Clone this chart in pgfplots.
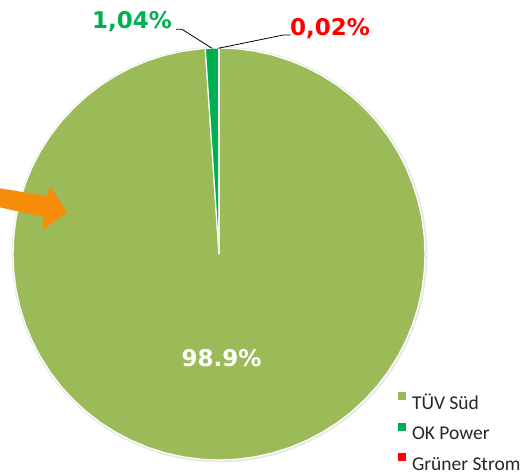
\documentclass[border=0pt]{standalone}
\usepackage{pgfplots}
\pgfplotsset{compat=1.18}
\usepackage{fontspec}
\setmainfont{DejaVu Sans}
\newfontfamily\carlito{Carlito}
\definecolor{tuev}{RGB}{155,187,89}
\definecolor{okp}{RGB}{0,176,80}
\definecolor{gruen}{RGB}{255,0,0}
\definecolor{arrowc}{RGB}{245,140,10}
\begin{document}
\begin{tikzpicture}[x=1pt,y=1pt]
\path[use as bounding box] (0,0) rectangle (522,475);
\fill[black!9] (219.5,220.5) circle (207.8);
\begin{axis}[at={(219pt,221pt)}, anchor=origin,
  x=206pt, y=206pt, xmin=-1, xmax=1, ymin=-1, ymax=1,
  hide axis, clip=false,
  legend image code/.code={\fill[#1,draw=none] (0pt,4pt) rectangle (8pt,12pt);},
  legend cell align=left,
  legend style={at={(axis description cs:0.9345,0.1640)}, anchor=north west,
    draw=none, fill=none, inner sep=0pt, outer sep=0pt, row sep=9.5pt,
    font=\carlito\fontsize{19.5}{20}\selectfont, text=black!85,
    nodes={inner sep=0pt, text height=14pt, text depth=4pt},
    /tikz/every odd column/.style={column sep=6pt}},
]
% shares: TÜV Süd 98.94 %, OK Power 1.04 %, Grüner Strom 0.02 % (clockwise from 12 o'clock)
\addplot[data cs=polar, fill=tuev, draw=white, line width=1.2pt] coordinates {
(0,0) (93.816,1) (95,1) (100,1) (105,1) (110,1) (115,1) (120,1) (125,1) (130,1) (135,1)
(140,1) (145,1) (150,1) (155,1) (160,1) (165,1) (170,1) (175,1) (180,1) (185,1) (190,1)
(195,1) (200,1) (205,1) (210,1) (215,1) (220,1) (225,1) (230,1) (235,1) (240,1) (245,1)
(250,1) (255,1) (260,1) (265,1) (270,1) (275,1) (280,1) (285,1) (290,1) (295,1) (300,1)
(305,1) (310,1) (315,1) (320,1) (325,1) (330,1) (335,1) (340,1) (345,1) (350,1) (355,1)
(360,1) (365,1) (370,1) (375,1) (380,1) (385,1) (390,1) (395,1) (400,1) (405,1) (410,1)
(415,1) (420,1) (425,1) (430,1) (435,1) (440,1) (445,1) (450,1)} -- cycle;
\addlegendentry{TÜV Süd}
\addplot[data cs=polar, fill=okp, draw=white, line width=1.2pt] coordinates {
(0,0) (90.072,1) (91,1) (92,1) (93,1) (93.816,1)} -- cycle;
\addlegendentry{OK Power}
\addplot[data cs=polar, fill=gruen, draw=white, line width=1.2pt] coordinates {
(0,0) (90,1) (90.072,1)} -- cycle;
\addlegendentry{Grüner Strom}
\end{axis}
% labels
\node[anchor=base, text=white, font=\bfseries\fontsize{23}{23}\selectfont, inner sep=0pt] at (221.5,109) {98.9\%};
\node[anchor=base west, text=okp, font=\bfseries\fontsize{23}{23}\selectfont, inner sep=0pt] at (92,446.7) {1,04\%};
\node[anchor=base west, text=gruen, font=\bfseries\fontsize{23}{23}\selectfont, inner sep=0pt] at (290,439) {0,02\%};
\draw[line width=0.8pt] (176,445.7) -- (182,445.7) -- (212,426.7);
\draw[line width=0.8pt] (218.3,426.7) -- (283.3,440) -- (290.7,440);
% arrow
\fill[arrowc] (-2,287) -- (47,279) -- (50,289) -- (67,262) -- (42,245) -- (44,258) -- (-2,268) -- cycle;
\end{tikzpicture}
\end{document}
